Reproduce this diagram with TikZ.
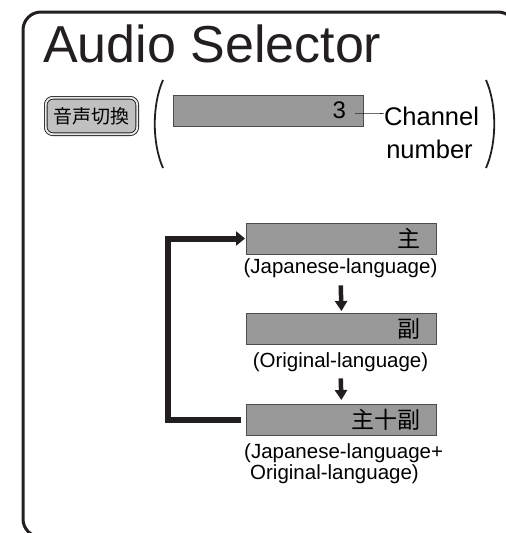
\documentclass[tikz,border=0pt]{standalone}
\usepackage{fontspec}
\setmainfont{Liberation Sans}
\newfontfamily\jpfont{Noto Sans CJK JP}
\usetikzlibrary{arrows.meta, positioning}
\definecolor{inkdark}{RGB}{35, 31, 32}
\definecolor{bargray}{RGB}{153, 153, 153}
\definecolor{keygray}{RGB}{192, 192, 192}

\begin{document}
\begin{tikzpicture}[
    x=1pt, y=-1pt,
    dispbar/.style={rectangle, draw=inkdark!80, fill=bargray, line width=0.9pt, minimum width=190pt, minimum height=31pt, inner ysep=0pt, inner xsep=16pt, text width=158pt, align=right, font=\jpfont\fontsize{23}{23}\selectfont},
    keybox/.style={rectangle, rounded corners=7pt, draw=inkdark, line width=0.9pt, double=black!8, double distance=1.8pt, fill=keygray, minimum width=91.4pt, minimum height=36.4pt, inner sep=0pt, font=\jpfont\fontsize{19}{19}\selectfont},
    desc/.style={inner sep=0pt, font=\fontsize{20.5}{22}\selectfont},
    steparrow/.style={-{Triangle[width=12pt, length=10pt]}, line width=4.5pt, color=inkdark},
    looparrow/.style={-{Triangle[width=14pt, length=9pt]}, line width=6pt, color=inkdark}
]
\useasboundingbox (0,0) rectangle (506,533);

% outer frame
\draw[inkdark, line width=3pt, rounded corners=18pt] (23,12) rectangle (516,537);

\node[anchor=base west, inner sep=0pt, font=\fontsize{52}{60}\selectfont, text=inkdark] (title) at (43,62) {Audio Selector};

\node[keybox] (key) at (91.5,116) {音声切換};

% brackets
\draw[inkdark, line width=1.8pt] (163,80) .. controls (152,105) and (152,143) .. (163,168);
\draw[inkdark, line width=1.8pt] (486,80) .. controls (497,105) and (497,143) .. (486,168);

\node[dispbar, inner xsep=17pt, text width=156pt, font=\fontsize{24}{24}\selectfont] (chan) at (268,110.5) {3};
\node[desc, anchor=base, font=\fontsize{25.5}{30}\selectfont] (chname) at (431.5,125) {Channel};
\node[desc, anchor=base, font=\fontsize{25.5}{30}\selectfont] (chnum) at (429.5,158) {number};
\coordinate (leadstart) at (355,113);
\draw[inkdark, line width=1pt] (leadstart) -- (leadstart -| chname.west) -- ++(-4,0);

% audio modes
\node[dispbar] (mainbar) at (341.5,238.5) {主};
\node[desc, anchor=base] (mainlbl) at (340.5,273) {(Japanese-language)};
\node[dispbar] (subbar) at (341.5,329) {副};
\node[desc, anchor=base] (sublbl) at (340.5,367) {(Original-language)};
\node[dispbar] (bothbar) at (341.5,420) {主十副};
\node[desc, anchor=base west] (bothlbl) at (244,458) {(Japanese-language+};
\node[desc, anchor=base west] (bothlblb) at (250,479) {Original-language)};

\draw[steparrow, shorten <=8pt, shorten >=2pt] (mainlbl.south) -- (subbar.north);
\draw[steparrow, shorten <=7pt, shorten >=4pt] (sublbl.south) -- (bothbar.north);
\draw[looparrow, shorten <=5pt, shorten >=1pt] (bothbar.west) -- ++(-78.5,0) |- (mainbar.west);

\end{tikzpicture}
\end{document}
